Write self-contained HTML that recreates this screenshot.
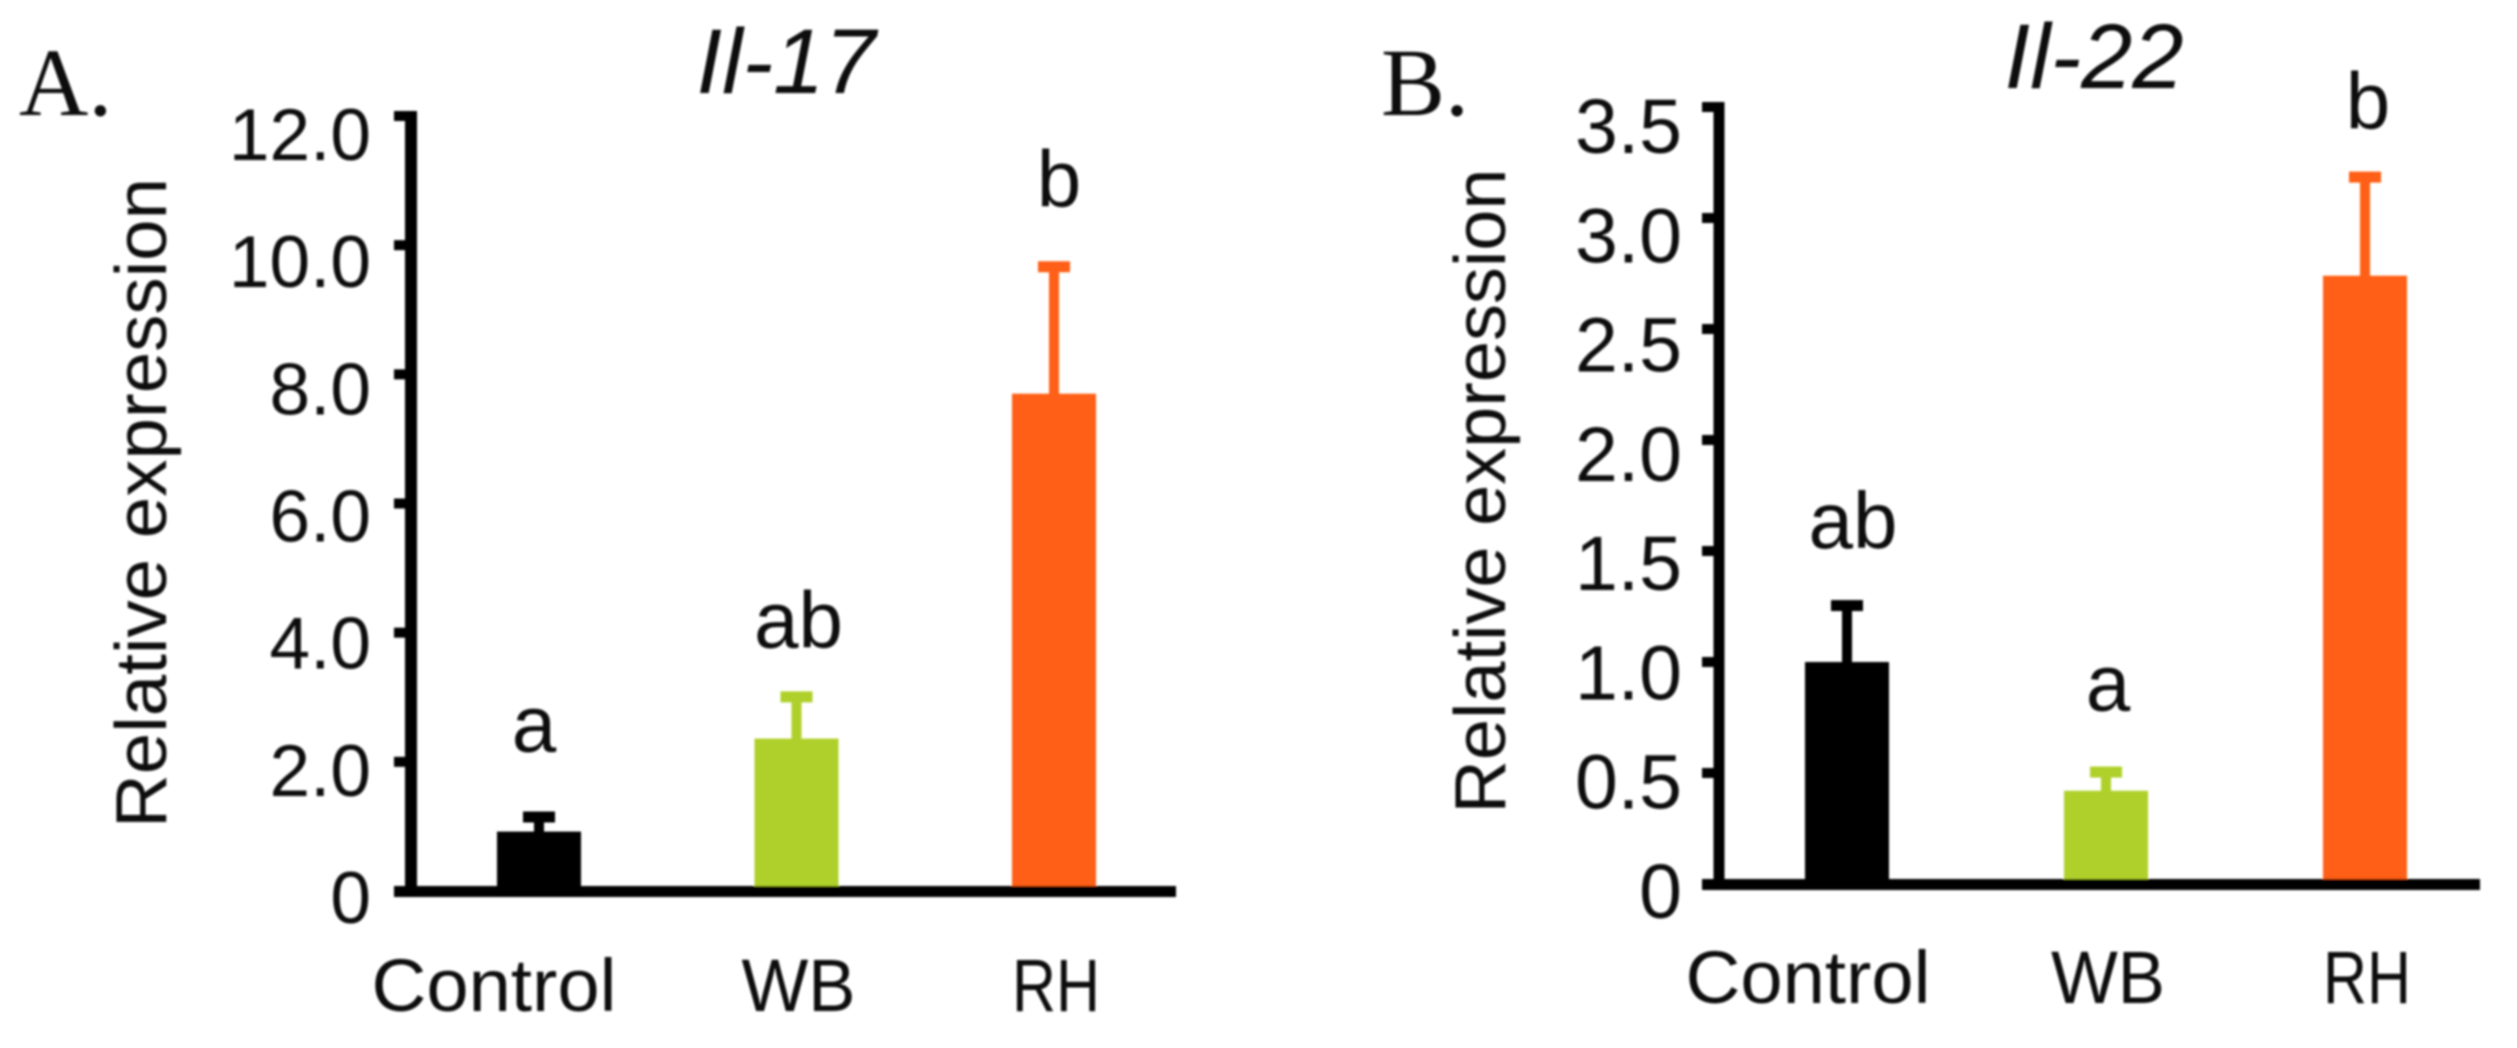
<!DOCTYPE html>
<html>
<head>
<meta charset="utf-8">
<title>Relative expression of Il-17 and Il-22</title>
<style>
html,body{margin:0;padding:0;background:#fff;}
svg{display:block;}
text{font-family:"Liberation Sans",sans-serif;fill:#111;}
</style>
</head>
<body>
<svg id="chart" xmlns="http://www.w3.org/2000/svg" width="2517" height="1048" viewBox="0 0 2517 1048">
<defs><filter id="soft" x="-2%" y="-2%" width="104%" height="104%"><feGaussianBlur stdDeviation="1"/></filter></defs>
<g id="root" filter="url(#soft)"></g>
</svg>
<script>
const categories = ["Control", "WB", "RH"];
const barColors = ["#000000", "#AFD02B", "#FF5F15"];

const il17Values = [0.92, 2.36, 7.7];
const il17Errors = [0.28, 0.7, 2.02];
const il17Letters = ["a", "ab", "b"];
const il17Ticks = [0, 2, 4, 6, 8, 10, 12];
const il17TickLabels = ["0", "2.0", "4.0", "6.0", "8.0", "10.0", "12.0"];

const il22Values = [1.0, 0.42, 2.74];
const il22Errors = [0.27, 0.1, 0.46];
const il22Letters = ["ab", "a", "b"];
const il22Ticks = [0, 0.5, 1, 1.5, 2, 2.5, 3, 3.5];
const il22TickLabels = ["0", "0.5", "1.0", "1.5", "2.0", "2.5", "3.0", "3.5"];

const NS = "http://www.w3.org/2000/svg";
const root = document.getElementById("root");

function mk(tag, attrs, parent, txt) {
  const el = document.createElementNS(NS, tag);
  for (const k in attrs) el.setAttribute(k, attrs[k]);
  if (txt !== undefined) el.textContent = txt;
  parent.appendChild(el);
  return el;
}

function categoryWidth(name) {
  if (name === "Control") return 245;
  if (name === "WB") return 114;
  return 88;
}

function drawPanel(p) {
  const g = mk("g", {}, root);
  
  

  const yScale = v => p.y0 + (p.yTop - p.y0) * (v / p.max);
  const xScale = i => p.x0 + i * p.step;

  const letter = mk("text", {x: p.letterX, y: p.letterY, "font-size": 96, style: 'font-family:"Liberation Serif",serif'}, g, p.letter);
  
  

  const title = mk("text", {x: p.titleX, y: p.titleY, "font-size": 92, "font-style": "italic", "text-anchor": "middle"}, g, p.title);
  
  

  const yTitle = mk("text", {transform: "translate(" + p.yTitleX + "," + p.yTitleY + ") rotate(-90)", "font-size": 72, textLength: p.yTitleLen, lengthAdjust: "spacingAndGlyphs", "text-anchor": "middle"}, g, "Relative expression");
  
  

  p.values.forEach((v, i) => {
    const cx = xScale(i), top = yScale(v), errTop = yScale(v + p.errors[i]);
    const bar = mk("rect", {x: cx - 42, y: top, width: 84, height: p.y0 - top, fill: barColors[i]}, g);
    
    

    const stem = mk("rect", {x: cx - 5, y: errTop, width: 10, height: top - errTop + 1, fill: barColors[i]}, g);
    
    

    const cap = mk("rect", {x: cx - 16, y: errTop - 2, width: 32, height: 11, fill: barColors[i]}, g);
    
    

    const sig = mk("text", {x: cx + p.sigShift[i], y: errTop - p.sigGap[i], "font-size": 80, "text-anchor": "middle"}, g, p.letters[i]);
    
    

    const labelX = cx + (i === 0 ? p.firstLabelShift : 2);
    const cat = mk("text", {x: labelX, y: p.catY, "font-size": 74, textLength: categoryWidth(categories[i]), lengthAdjust: "spacingAndGlyphs", "text-anchor": "middle"}, g, categories[i]);
    
    
  });

  const yAxis = mk("rect", {x: p.axisX - p.axisW / 2, y: p.yTop - 5, width: p.axisW, height: p.y0 - p.yTop + 5, fill: "#000"}, g);
  
  

  const xAxis = mk("rect", {x: p.axisX - 17, y: p.y0 - 5, width: p.xEnd - p.axisX + 17, height: 11, fill: "#000"}, g);
  
  

  p.ticks.forEach((t, i) => {
    const y = yScale(t);
    const tick = mk("rect", {x: p.axisX - 17, y: y - 5, width: 17, height: 10, fill: "#000"}, g);
    
    

    const labelY = y + p.labelBase + (t / p.max) * p.labelDrift;
    const label = mk("text", {x: p.labelRight, y: labelY, "font-size": p.labelSize, "text-anchor": "end"}, g, p.tickLabels[i]);
    
    
  });
}

drawPanel({
  name: "il-17", letter: "A.", title: "Il-17",
  values: il17Values, errors: il17Errors, letters: il17Letters,
  ticks: il17Ticks, tickLabels: il17TickLabels, max: 12,
  y0: 891, yTop: 116, x0: 539, step: 257.5, axisX: 411, axisW: 12, xEnd: 1176,
  letterX: 19, letterY: 115, titleX: 786, titleY: 93,
  yTitleX: 166, yTitleY: 503, yTitleLen: 650,
  labelRight: 371, labelSize: 73, labelBase: 32, labelDrift: 12,
  catY: 1011, firstLabelShift: -45, sigShift: [-5, 2, 5], sigGap: [62, 46, 57]
});

drawPanel({
  name: "il-22", letter: "B.", title: "Il-22",
  values: il22Values, errors: il22Errors, letters: il22Letters,
  ticks: il22Ticks, tickLabels: il22TickLabels, max: 3.5,
  y0: 884, yTop: 107, x0: 1847, step: 259, axisX: 1719, axisW: 11, xEnd: 2480,
  letterX: 1381, letterY: 115, titleX: 2094, titleY: 88,
  yTitleX: 1505, yTitleY: 491, yTitleLen: 645,
  labelRight: 1682, labelSize: 77, labelBase: 34, labelDrift: 12,
  catY: 1003, firstLabelShift: -39, sigShift: [6, 2, 3], sigGap: [54, 58, 45]
});
</script>
</body>
</html>
